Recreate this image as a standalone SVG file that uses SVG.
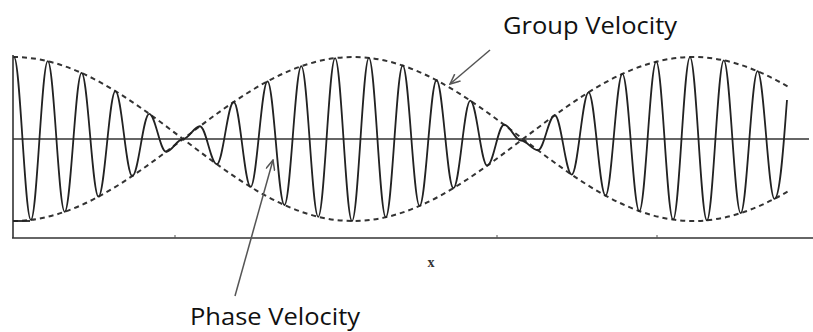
<svg xmlns="http://www.w3.org/2000/svg" width="813" height="332" viewBox="0 0 813 332">
  <style>
    .axis { stroke: #333; stroke-width: 1.6; fill: none; }
    .tick { stroke: #555; stroke-width: 1; }
    .wave { stroke: #222; stroke-width: 1.8; fill: none; stroke-linejoin: round; }
    .env { stroke: #333; stroke-width: 2; fill: none; stroke-dasharray: 5 4; }
    .arrow { stroke: #555; stroke-width: 1.5; fill: none; marker-end: url(#open); }
    .label { font-family: "Open Sans", "Liberation Sans", sans-serif; font-size: 24px; fill: #111; }
    .xlabel { font-family: "Liberation Serif", serif; font-size: 14px; font-weight: bold; fill: #333; }
  </style>
  <defs>
    <marker id="open" viewBox="0 0 12 10" refX="11" refY="5" markerWidth="12" markerHeight="10" markerUnits="userSpaceOnUse" orient="auto">
      <path d="M1,0.5 L11,5 L1,9.5" fill="none" stroke="#555" stroke-width="1.5"/>
    </marker>
    <clipPath id="envclip">
      <rect x="0" y="0" width="788" height="332"/>
    </clipPath>
  </defs>
  <rect width="813" height="332" fill="#fff"/>

  <g id="axes">
    <line class="axis" x1="13" y1="55" x2="13" y2="238"/>
    <line class="axis" x1="12" y1="238" x2="813" y2="238"/>
    <line class="axis" x1="13" y1="139" x2="809" y2="139"/>
    <line class="tick" x1="175" y1="235" x2="175" y2="238"/>
    <line class="tick" x1="497" y1="235" x2="497" y2="238"/>
    <line class="tick" x1="657" y1="235" x2="657" y2="238"/>
    <text class="xlabel" x="431" y="267" text-anchor="middle">x</text>
  </g>

  <g id="envelope" clip-path="url(#envclip)">
    <path class="env" d="M13,57 C136.6,57 229.4,221 353,221 S569.4,57 693,57 S909.4,221 1033,221"/>
    <path class="env" d="M13,221 C136.6,221 229.4,57 353,57 S569.4,221 693,221 S909.4,57 1033,57"/>
  </g>

  <g id="signal">
    <path class="wave" d="M13,221 L30,221"/>
    <path class="wave" d="M14,57 C20.15,57 24.75,219.9 30.9,219.9 S41.65,61.2 47.8,61.2 S58.55,211.8 64.7,211.8 S75.45,72.9 81.6,72.9 S92.35,196.7 98.5,196.7 S109.25,91.05 115.4,91.05 S126.15,176 132.3,176 S143.05,113.8 149.2,113.8 S159.95,151.75 166.1,151.75 S176.85,139 183,139 S193.75,126.25 199.9,126.25 S210.65,164.2 216.8,164.2 S227.55,101.98 233.7,101.98 S244.45,186.95 250.6,186.95 S261.35,81.29 267.5,81.29 S278.25,205.07 284.4,205.07 S295.15,66.18 301.3,66.18 S312.05,216.8 318.2,216.8 S328.95,58.12 335.1,58.12 S345.85,221 352,221 S362.75,57.88 368.9,57.88 S379.65,217.26 385.8,217.26 S396.55,65.5 402.7,65.5 S413.45,205.97 419.6,205.97 S430.35,80.24 436.5,80.24 S447.25,188.17 453.4,188.17 S464.15,100.63 470.3,100.63 S481.05,165.63 487.2,165.63 S497.95,124.75 504.1,124.75 S514.85,140.5 521,140.5 S531.75,150.25 537.9,150.25 S548.65,115.25 554.8,115.25 S565.55,174.67 571.7,174.67 S582.45,92.28 588.6,92.28 S599.35,195.63 605.5,195.63 S616.25,73.85 622.4,73.85 S633.15,211.11 639.3,211.11 S650.05,61.69 656.2,61.69 S666.95,219.62 673.1,219.62 S683.85,57.03 690,57.03 S700.75,220.32 706.9,220.32 S717.65,60.3 723.8,60.3 S734.55,213.16 740.7,213.16 S751.45,71.18 757.6,71.18 S768.35,198.82 774.5,198.82 C780.65,198.82 784.5,130 787,100"/>
  </g>

  <g id="connectors">
    <line class="arrow" x1="490" y1="50" x2="450" y2="84"/>
    <line class="arrow" x1="235" y1="296" x2="273" y2="160"/>
  </g>

  <g id="group-velocity">
    <text class="label" x="503" y="34" textLength="174" lengthAdjust="spacingAndGlyphs">Group Velocity</text>
  </g>
  <g id="phase-velocity">
    <text class="label" x="190" y="325" textLength="170" lengthAdjust="spacingAndGlyphs">Phase Velocity</text>
  </g>
</svg>
